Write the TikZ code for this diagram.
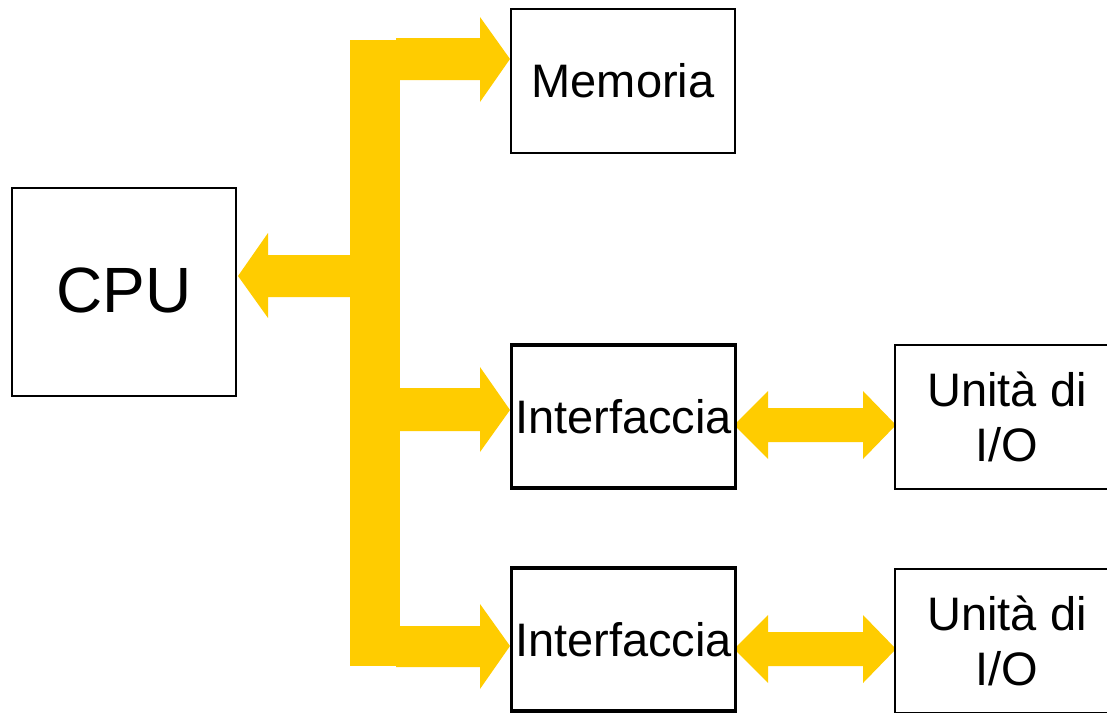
\documentclass[tikz,border=0pt]{standalone}
\usepackage{fontspec}
\setmainfont{Liberation Sans}
\definecolor{busyellow}{HTML}{FFCC00}
\begin{document}
\begin{tikzpicture}[x=1pt,y=-1pt,
  box/.style={draw=black, line width=2pt, rectangle, inner sep=0pt,
    minimum width=224pt, minimum height=144pt,
    font=\fontsize{47}{55}\selectfont, align=center},
  thickbox/.style={box, line width=3.5pt},
  bus/.style={fill=busyellow, draw=none}]
\useasboundingbox (0,0) rectangle (1107,712);
\fill[white] (0,0) rectangle (1107,712);

% system bus: vertical trunk and branches
\fill[bus] (350,40) rectangle (400,666);
\fill[bus] (396,38) -- (480,38) -- (480,17) -- (510,59) -- (480,102)
  -- (480,80) -- (396,80) -- cycle;
\fill[bus] (352,255) -- (268,255) -- (268,233) -- (238,276) -- (268,318)
  -- (268,297) -- (352,297) -- cycle;
\fill[bus] (398,388) -- (480,388) -- (480,367) -- (510,410) -- (480,452)
  -- (480,431) -- (398,431) -- cycle;
\fill[bus] (396,626) -- (480,626) -- (480,604) -- (510,646) -- (480,689)
  -- (480,667) -- (396,667) -- cycle;

% interface <-> I/O unit links
\fill[bus] (734,425) -- (768,391) -- (768,408) -- (863,408) -- (863,391)
  -- (896,425) -- (863,459) -- (863,442) -- (768,442) -- (768,459) -- cycle;
\fill[bus] (734,649) -- (768,615) -- (768,632) -- (863,632) -- (863,615)
  -- (896,649) -- (863,683) -- (863,666) -- (768,666) -- (768,683) -- cycle;

% blocks
\node[box, minimum height=208pt, font=\fontsize{64}{70}\selectfont] (cpu) at (124,291.5) {\raisebox{3pt}{CPU}};
\node[box] (mem) at (623,81) {Memoria};
\node[thickbox, minimum height=143pt] (if1) at (623.5,416.5) {Interfaccia};
\node[thickbox, minimum height=143pt] (if2) at (623.5,639.5) {Interfaccia};
\node[box] (io1) at (1007,417) {Unità di\\I/O};
\node[box] (io2) at (1007,641) {Unità di\\I/O};
\end{tikzpicture}
\end{document}
